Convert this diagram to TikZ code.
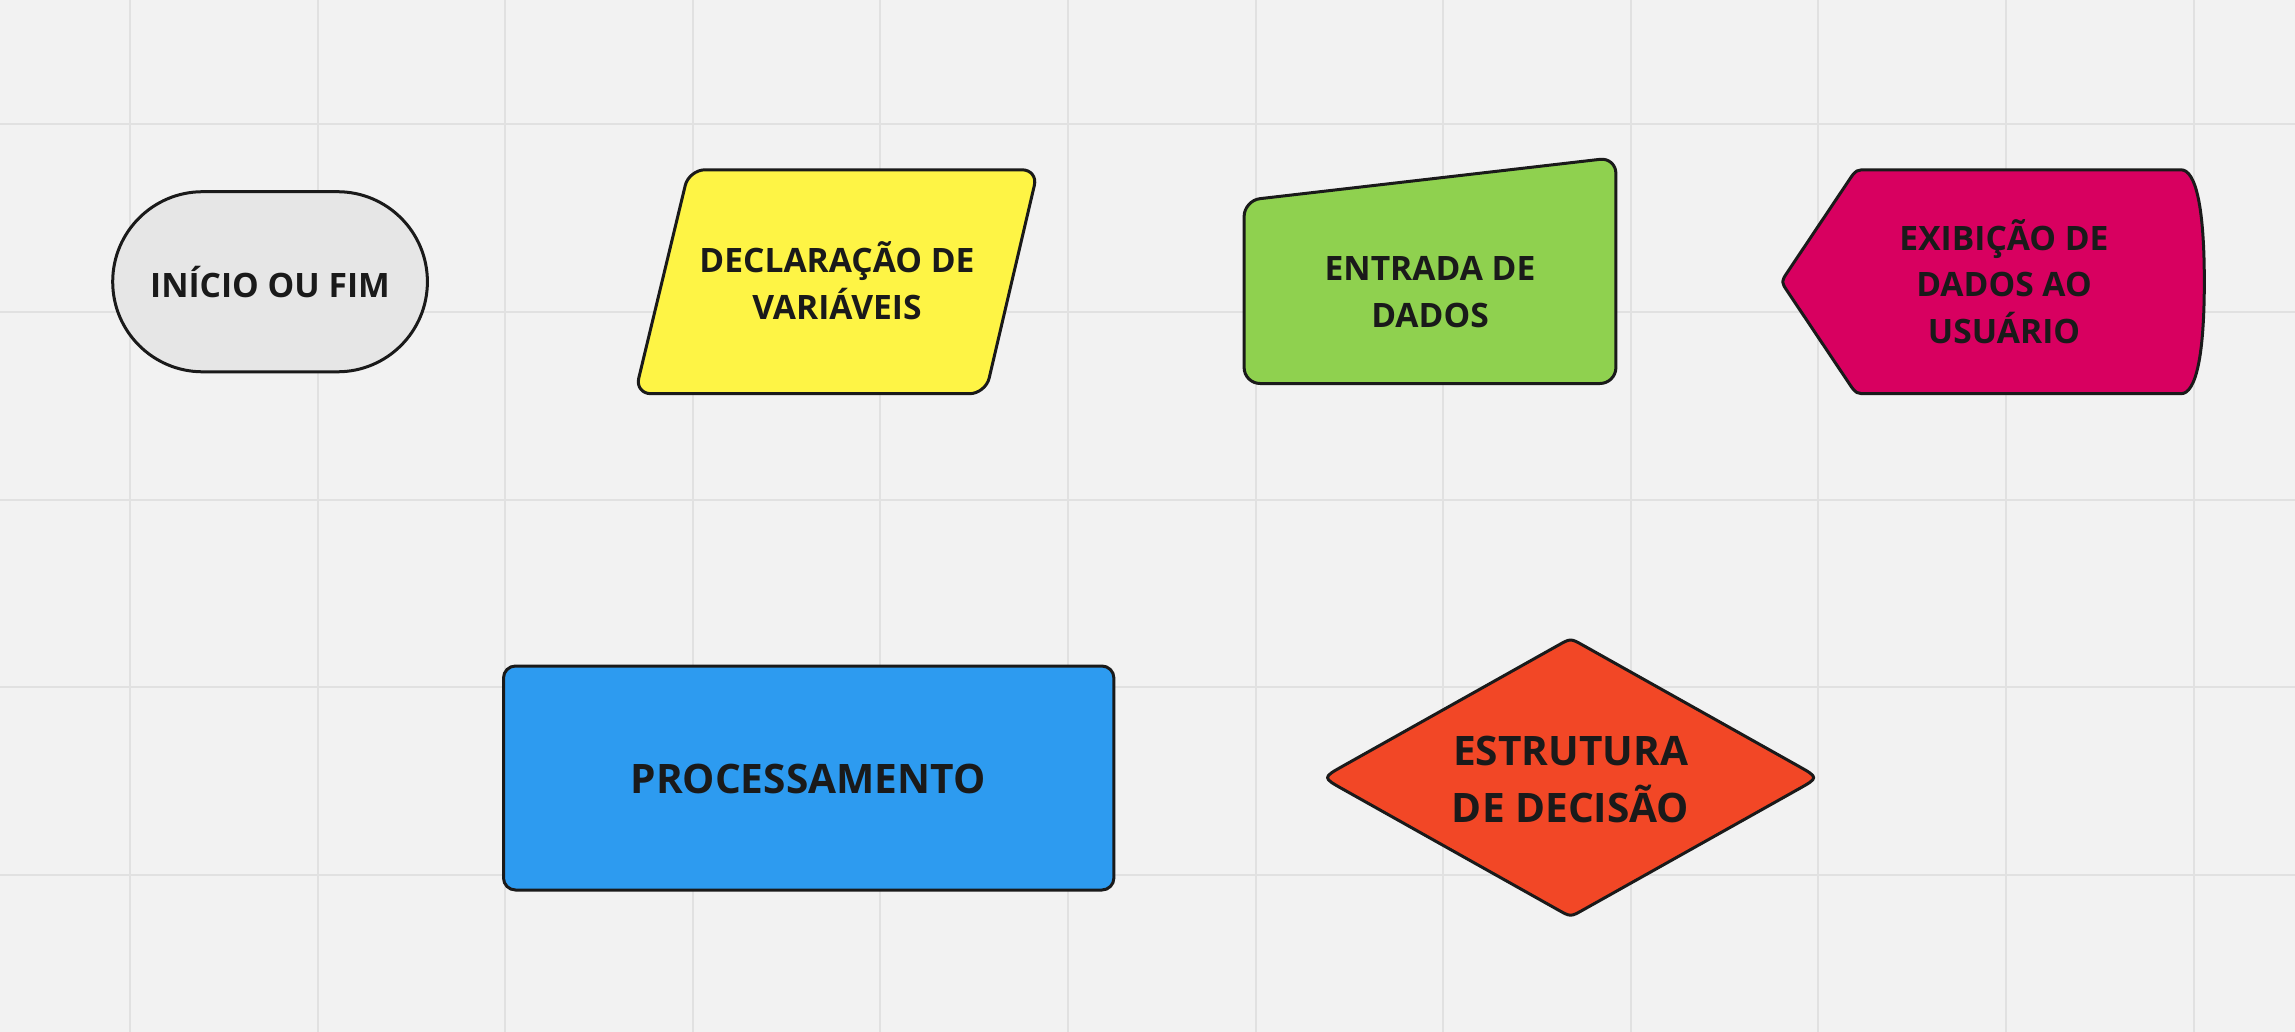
\documentclass[tikz,border=0pt]{standalone}
\usepackage{fontspec}
\setmainfont{Open Sans}
\definecolor{bgc}{HTML}{F2F2F2}
\definecolor{gridc}{HTML}{E1E1E1}
\definecolor{inkc}{HTML}{1A1A1A}
\definecolor{greyf}{HTML}{E6E6E6}
\definecolor{yellowf}{HTML}{FEF445}
\definecolor{greenf}{HTML}{8FD14F}
\definecolor{magf}{HTML}{D80060}
\definecolor{bluef}{HTML}{2D9BF0}
\definecolor{redf}{HTML}{F24726}
\tikzset{
  shapeline/.style={draw=inkc, line width=1.5pt, line join=round},
  lbl/.style={text=inkc, align=center, inner sep=0pt, font=\fontsize{16.8}{23.4}\selectfont\bfseries},
  biglbl/.style={text=inkc, align=center, inner sep=0pt, font=\fontsize{20.3}{28.5}\selectfont\bfseries},
}
\begin{document}
\begin{tikzpicture}[x=0.5pt,y=-0.5pt]
\fill[bgc] (0,0) rectangle (2295,1032);
\useasboundingbox (0,0) rectangle (2295,1032);
% grid
\foreach \k in {0,...,11} {
  \draw[gridc, line width=1pt] ({130+\k*187.6},0) -- ({130+\k*187.6},1032);
}
\foreach \k in {0,...,4} {
  \draw[gridc, line width=1pt] (0,{124.4+\k*187.6}) -- (2295,{124.4+\k*187.6});
}
% Inicio ou fim (stadium)
\draw[shapeline, fill=greyf, rounded corners=45pt] (112.7,191.7) rectangle (427.4,371.8);
\node[lbl] (inicio) at (270,281.8) {INÍCIO OU FIM};
% Declaracao (parallelogram)
\draw[shapeline, fill=yellowf, rounded corners=8pt]
  (862,169.8) -- (1038,169.8) -- (985.5,393.7) -- (810,393.7) -- (635,393.7) -- (689,169.8) -- cycle;
\node[lbl] (decl) at (837,281) {DECLARAÇÃO DE\\VARIÁVEIS};
% Entrada de dados (manual input)
\draw[shapeline, fill=greenf, rounded corners=8pt]
  (1430,383.5) -- (1244.1,383.5) -- (1244.1,200.5) -- (1615.9,157.5) -- (1615.9,383.5) -- cycle;
\node[lbl] (entrada) at (1430,292) {ENTRADA DE\\DADOS};
% Exibicao (display)
\draw[shapeline, fill=magf]
  (2181,169.8) -- (1868,169.8) .. controls (1856,169.8) .. (1849.3,179.77)
  -- (1787.68,271.78) .. controls (1781,281.75) .. (1787.68,291.72)
  -- (1849.3,383.73) .. controls (1856,393.7) .. (1868,393.7)
  -- (2181,393.7) .. controls (2196,393.7) and (2204.3,355) .. (2204.3,281.75)
  .. controls (2204.3,208.5) and (2196,169.8) .. (2181,169.8) -- cycle;
\node[lbl] (exib) at (2004,281.5) {EXIBIÇÃO DE\\DADOS AO\\USUÁRIO};
% Processamento
\draw[shapeline, fill=bluef, rounded corners=6pt] (503.5,666) rectangle (1113.9,890);
\node[biglbl] (proc) at (808,778.7) {PROCESSAMENTO};
% Decisao (diamond)
\draw[shapeline, fill=redf]
  (1558.39,645.15) .. controls (1570.6,638.3) .. (1582.81,645.15)
  -- (1797.97,765.86) .. controls (1818.9,777.6) .. (1797.97,789.34)
  -- (1582.81,910.05) .. controls (1570.6,916.9) .. (1558.39,910.05)
  -- (1343.23,789.34) .. controls (1322.3,777.6) .. (1343.23,765.86)
  -- cycle;
\node[biglbl] (dec) at (1570.6,779) {ESTRUTURA\\DE DECISÃO};
\end{tikzpicture}
\end{document}
